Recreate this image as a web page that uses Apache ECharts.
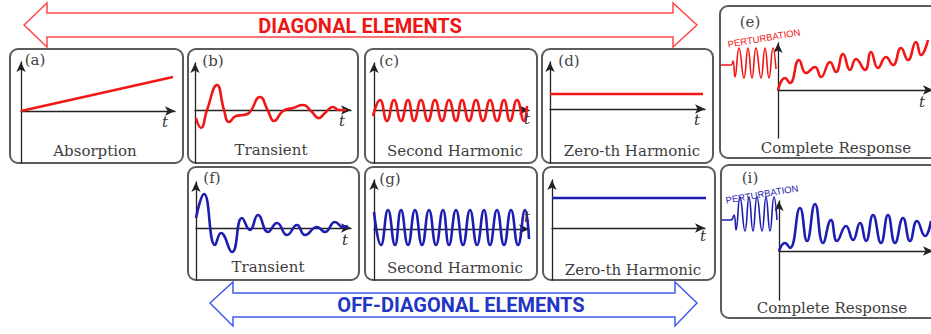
<!DOCTYPE html>
<html><head><meta charset="utf-8">
<script src="https://cdn.jsdelivr.net/npm/echarts@6/dist/echarts.min.js"></script>
<style>html,body{margin:0;padding:0;background:#fff}#c{width:931px;height:334px}</style>
</head><body><div id="c"></div>
<script>
// ---------------- DATA (x: time units right of the vertical axis, y: signal above the t-axis) ----------------
const panelKeys   = ['a','b','c','d','e','f','g','h','i'];
const panelTags   = ['(a)','(b)','(c)','(d)','(e)','(f)','(g)','','(i)'];
const panelTitles = ['Absorption','Transient','Second Harmonic','Zero-th Harmonic','Complete Response',
                     'Transient','Second Harmonic','Zero-th Harmonic','Complete Response'];
const timeLabel = 't';
const diagonalLabel = 'DIAGONAL ELEMENTS';
const offDiagonalLabel = 'OFF-DIAGONAL ELEMENTS';
const perturbationLabel = 'PERTURBATION';

const absorption = [[0,0],[152,34]];
const transientDiag = [[1,-8],[6,-18],[12,0],[22,25],[29,0],[34,-12],[41,-6],[48,-5],[54,-3],[65,13],[73,-1],[79,-11],
  [88,-1],[98,2],[108,5],[116,-1],[124,-8],[130,-3],[138,3],[144,0],[151,0]];
const secondDiag = [[-1,-6],[6,10],[13,-11],[20,10],[27,-11],[34,10],[40,-11],[47,10],[54,-11],[61,10],[68,-11],[75,10],
  [82,-11],[88,10],[95,-11],[102,10],[109,-11],[116,10],[123,-11],[130,10],[136,-11],[143,10],[150,-11],[153,4]];
const zerothDiag = [[0,15],[153,15]];
const responseDiag = [[0,0],[7,12],[12,7],[21,30],[28,17],[37,23],[43,13],[52,28],[58,18],[65,36],[72,20],[78,31],
  [87,20],[93,38],[100,22],[108,33],[115,25],[123,42],[130,30],[138,48],[143,35],[150,50]];
const perturbDiag = [[0,0],[10,0],[12,4],[14,-12],[18,17],[23,-13],[27,17],[31,-13],[35,17],[40,-13],[44,17],[48,-13],[52,17],[55,-4]];

const transientOff = [[0,10],[8,34],[19,-17],[25,-5],[36,-24],[46,10],[54,-2],[62,13],[72,-4],[81,5],[91,-7],[101,3],
  [109,-7],[121,1],[129,-4],[139,6],[147,1],[152,2]];
const secondOff = [[0,17],[7,-16],[14,19],[21,-16],[27,19],[34,-16],[41,19],[48,-16],[55,19],[62,-16],[69,19],[75,-16],
  [82,19],[89,-16],[96,19],[103,-16],[110,19],[116,-16],[123,19],[130,-16],[137,19],[144,-16],[151,19],[155,-10]];
const zerothOff = [[0,30],[154,30]];
const responseOff = [[0,0],[6,8],[11,3],[21,43],[28,10],[36,47],[44,8],[52,31],[58,10],[67,25],[74,11],[81,28],[87,10],
  [94,36],[102,8],[109,36],[116,8],[124,33],[131,10],[138,30],[146,15],[152,30]];
const perturbOff = [[0,0],[9,0],[12,5],[14,-10],[18,23],[23,-11],[27,23],[31,-11],[35,23],[40,-11],[44,23],[48,-11],[52,23],[55,0]];

const panelSeries = [absorption, transientDiag, secondDiag, zerothDiag, responseDiag,
                     transientOff, secondOff, zerothOff, responseOff];
const panelSmooth = [false, true, true, false, true, true, true, false, true];

// ---------------- LAYOUT / STYLE ----------------
const RED = '#f21616', BLUE = '#1d1db2';
const panelColor = [RED,RED,RED,RED,RED,BLUE,BLUE,BLUE,BLUE];
// box [x,y,w,h]; ax [axisX, axisY, xEnd, top, bottom]
const layout = {
  a:{box:[10,49,173,114], ax:[21,111,175,62,163],  tag:[35,60],   title:[95,151],  t:[165,122]},
  b:{box:[188,49,170,114],ax:[195,110,351,63,163], tag:[213,61],  title:[271,150], t:[342,121]},
  c:{box:[365,49,172,114],ax:[374,110,529,63,163], tag:[389,61],  title:[455,151], t:[527,119]},
  d:{box:[542,49,171,114],ax:[550,109,705,62,163], tag:[569,61],  title:[632,151], t:[697,120]},
  e:{box:[720,6,225,152], ax:[778,90,933,43,138],  tag:[750,22],  title:[836,148], t:[922,102]},
  f:{box:[188,167,171,113],ax:[196,228,351,182,280],tag:[212,178],title:[268,267], t:[345,240]},
  g:{box:[365,167,172,113],ax:[374,229,529,180,280],tag:[390,179],title:[455,268], t:[527,217]},
  h:{box:[543,167,172,113],ax:[552,228,705,180,280],tag:null,     title:[633,270], t:[703,236]},
  i:{box:[721,165,225,153],ax:[779,251,933,201,300],tag:[750,178],title:[832,308], t:null}
};
const pertLayout = [
  {left:721, top:40, width:57, height:50, min:-25, max:25, color:RED, text:[764,38]},
  {left:722, top:190, width:57, height:55, min:-25, max:30, color:BLUE, text:[762,194]}
];

const SERIF = '"DejaVu Serif", serif';
const axisLineStyle = {show:true, onZero:true, symbol:['none','arrow'], symbolSize:[7,10],
  lineStyle:{color:'#222', width:1.3}};

const grids = [], xAxes = [], yAxes = [], series = [], graphics = [];

// boxes
panelKeys.forEach((k) => {
  const L = layout[k];
  graphics.push({type:'rect', z:0, shape:{x:L.box[0], y:L.box[1], width:L.box[2], height:L.box[3], r:8},
    style:{fill:'#fff', stroke:'#5c5c5c', lineWidth:2}});
});

panelKeys.forEach((k, idx) => {
  const L = layout[k];
  const [x0, y0, xEnd, top, bottom] = L.ax;
  grids.push({left:x0, top:top, width:xEnd - x0, height:bottom - top, containLabel:false, outerBoundsMode:'none'});
  xAxes.push({gridIndex:idx, type:'value', min:0, max:xEnd - x0, axisLine:axisLineStyle,
    axisTick:{show:false}, axisLabel:{show:false}, splitLine:{show:false}});
  yAxes.push({gridIndex:idx, type:'value', min:-(bottom - y0), max:y0 - top, axisLine:axisLineStyle,
    axisTick:{show:false}, axisLabel:{show:false}, splitLine:{show:false}});
  series.push({type:'line', xAxisIndex:idx, yAxisIndex:idx, data:panelSeries[idx], showSymbol:false,
    smooth:panelSmooth[idx] ? 0.5 : false, clip:false, silent:true, z:5,
    lineStyle:{color:panelColor[idx], width:2.6}});
  if (L.tag && panelTags[idx]) graphics.push({type:'text', z:10, style:{text:panelTags[idx], x:L.tag[0], y:L.tag[1],
    font:'15px ' + SERIF, fill:'#444', align:'center', verticalAlign:'middle'}});
  graphics.push({type:'text', z:10, style:{text:panelTitles[idx], x:L.title[0], y:L.title[1],
    font:'15px ' + SERIF, fill:'#3e3e3e', align:'center', verticalAlign:'middle'}});
  if (L.t) graphics.push({type:'text', z:10, style:{text:timeLabel, x:L.t[0], y:L.t[1],
    font:'italic 15px ' + SERIF, fill:'#333', align:'center', verticalAlign:'middle'}});
});

// perturbation inserts
[perturbDiag, perturbOff].forEach((d, j) => {
  const P = pertLayout[j];
  const gi = grids.length;
  grids.push({left:P.left, top:P.top, width:P.width, height:P.height, containLabel:false, outerBoundsMode:'none'});
  xAxes.push({gridIndex:gi, type:'value', min:0, max:P.width, show:false});
  yAxes.push({gridIndex:gi, type:'value', min:P.min, max:P.max, show:false});
  series.push({type:'line', xAxisIndex:gi, yAxisIndex:gi, data:d, showSymbol:false, smooth:0.5, clip:false,
    silent:true, z:5, lineStyle:{color:P.color, width:1.6}});
  graphics.push({type:'text', z:10, x:P.text[0], y:P.text[1], rotation:0.17,
    style:{text:perturbationLabel, x:0, y:0, font:'9.5px "Liberation Sans", sans-serif', fill:P.color,
      align:'center', verticalAlign:'middle'}});
});

// big arrows
graphics.push({type:'polygon', z:3, shape:{points:[[24,25],[47,3],[47,13],[673,13],[673,3],[697,25],[673,47],[673,37],[47,37],[47,47]]},
  style:{fill:'#fff', stroke:'#ff4848', lineWidth:1.5}});
graphics.push({type:'text', z:10, style:{text:diagonalLabel, x:360, y:26, font:'bold 20px Roboto, sans-serif',
  fill:'#ee1515', align:'center', verticalAlign:'middle'}});
graphics.push({type:'polygon', z:3, shape:{points:[[210,303],[233,282],[233,293],[675,293],[675,282],[697,303],[675,326],[675,317],[233,317],[233,326]]},
  style:{fill:'#fff', stroke:'#3f5cf0', lineWidth:1.5}});
graphics.push({type:'text', z:10, style:{text:offDiagonalLabel, x:461, y:305, font:'bold 20px Roboto, sans-serif',
  fill:'#2235c4', align:'center', verticalAlign:'middle'}});

const chart = echarts.init(document.getElementById('c'), null, {renderer:'svg'});
chart.setOption({animation:false, backgroundColor:'#fff', grid:grids, xAxis:xAxes, yAxis:yAxes, series:series, graphic:graphics});
</script></body></html>
